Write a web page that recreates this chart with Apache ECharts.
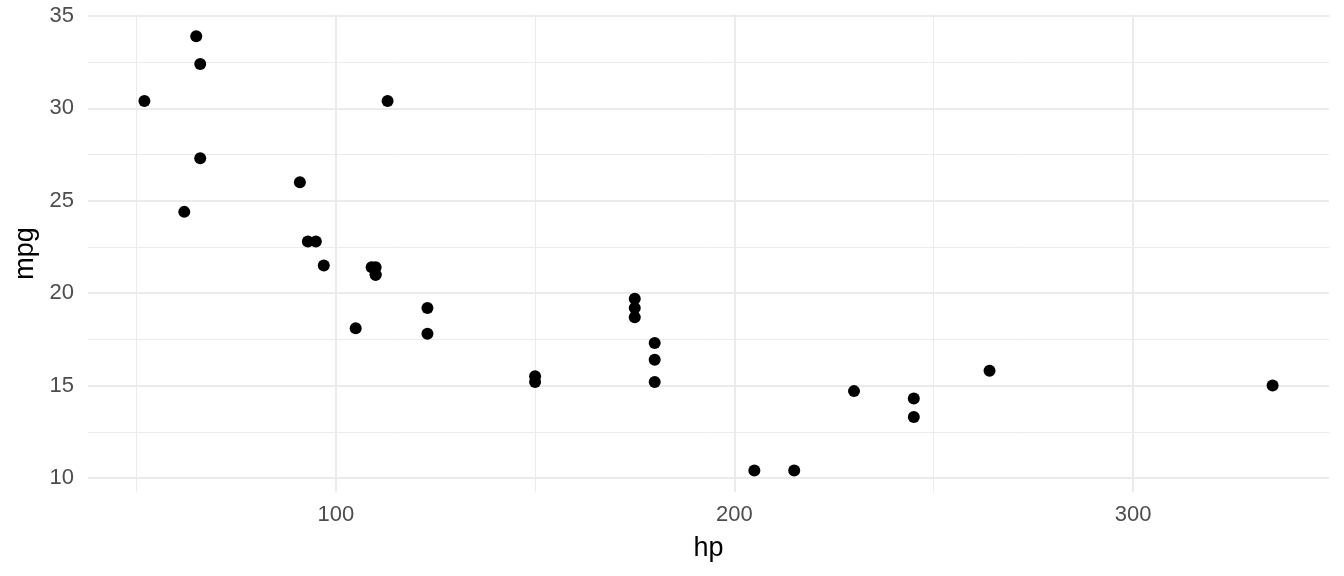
<!DOCTYPE html>
<html>
<head>
<meta charset="utf-8">
<script src="https://cdn.jsdelivr.net/npm/echarts@6/dist/echarts.min.js"></script>
<style>html,body{margin:0;padding:0;background:#fff}#c{width:1344px;height:576px}</style>
</head>
<body>
<div id="c"></div>
<script>
var hp  = [110,110,93,110,175,105,245,62,95,123,123,180,180,180,205,215,230,66,52,65,97,150,150,245,175,66,91,113,264,175,335,109];
var mpg = [21.0,21.0,22.8,21.4,18.7,18.1,14.3,24.4,22.8,19.2,17.8,16.4,17.3,15.2,10.4,10.4,14.7,32.4,30.4,33.9,21.5,15.5,15.2,13.3,19.2,27.3,26.0,30.4,15.8,19.7,15.0,21.4];
var xTicks = [100,200,300];
var xMinor = [50,150,250];
var yTicks = [10,15,20,25,30,35];
var yMinor = [12.5,17.5,22.5,27.5,32.5];
var xRange = [37.85, 349.15];
var yRange = [9.225, 35.075];

var pts = hp.map(function(h,i){return [h, mpg[i]];});
var majorStyle = {color:'#ebebeb', width:2, type:'solid'};
var minorStyle = {color:'#ebebeb', width:1, type:'solid'};
var lines = [];
xMinor.forEach(function(v){lines.push({xAxis:v, lineStyle:minorStyle});});
yMinor.forEach(function(v){lines.push({yAxis:v, lineStyle:minorStyle});});
xTicks.forEach(function(v){lines.push({xAxis:v, lineStyle:majorStyle});});
yTicks.forEach(function(v){lines.push({yAxis:v, lineStyle:majorStyle});});

var chart = echarts.init(document.getElementById('c'), null, {renderer:'canvas'});
chart.setOption({
  animation:false,
  backgroundColor:'#ffffff',
  grid:{left:88, right:15, top:14.6, bottom:576-492.3, containLabel:false, outerBoundsMode:'none'},
  xAxis:{
    type:'value', min:xRange[0], max:xRange[1],
    name:'hp', nameLocation:'middle', nameGap:43,
    nameTextStyle:{color:'#000', fontSize:27, fontFamily:'Liberation Sans'},
    axisLine:{show:false}, axisTick:{show:false}, splitLine:{show:false},
    axisLabel:{customValues:xTicks, color:'#4d4d4d', fontSize:22, fontFamily:'Liberation Sans', margin:12}
  },
  yAxis:{
    type:'value', min:yRange[0], max:yRange[1],
    name:'mpg', nameLocation:'middle', nameGap:47, nameRotate:90,
    nameTextStyle:{color:'#000', fontSize:27, fontFamily:'Liberation Sans'},
    axisLine:{show:false}, axisTick:{show:false}, splitLine:{show:false},
    axisLabel:{customValues:yTicks, color:'#4d4d4d', fontSize:22, fontFamily:'Liberation Sans', margin:14, padding:[4,0,0,0]}
  },
  series:[
    {type:'scatter', data:[], zlevel:0, z:1, silent:true,
     markLine:{silent:true, symbol:['none','none'], label:{show:false}, animation:false, data:lines}},
    {type:'scatter', data:pts, zlevel:1, z:3, symbol:'circle', symbolSize:12, itemStyle:{color:'#000', opacity:1}}
  ]
});
</script>
</body>
</html>
